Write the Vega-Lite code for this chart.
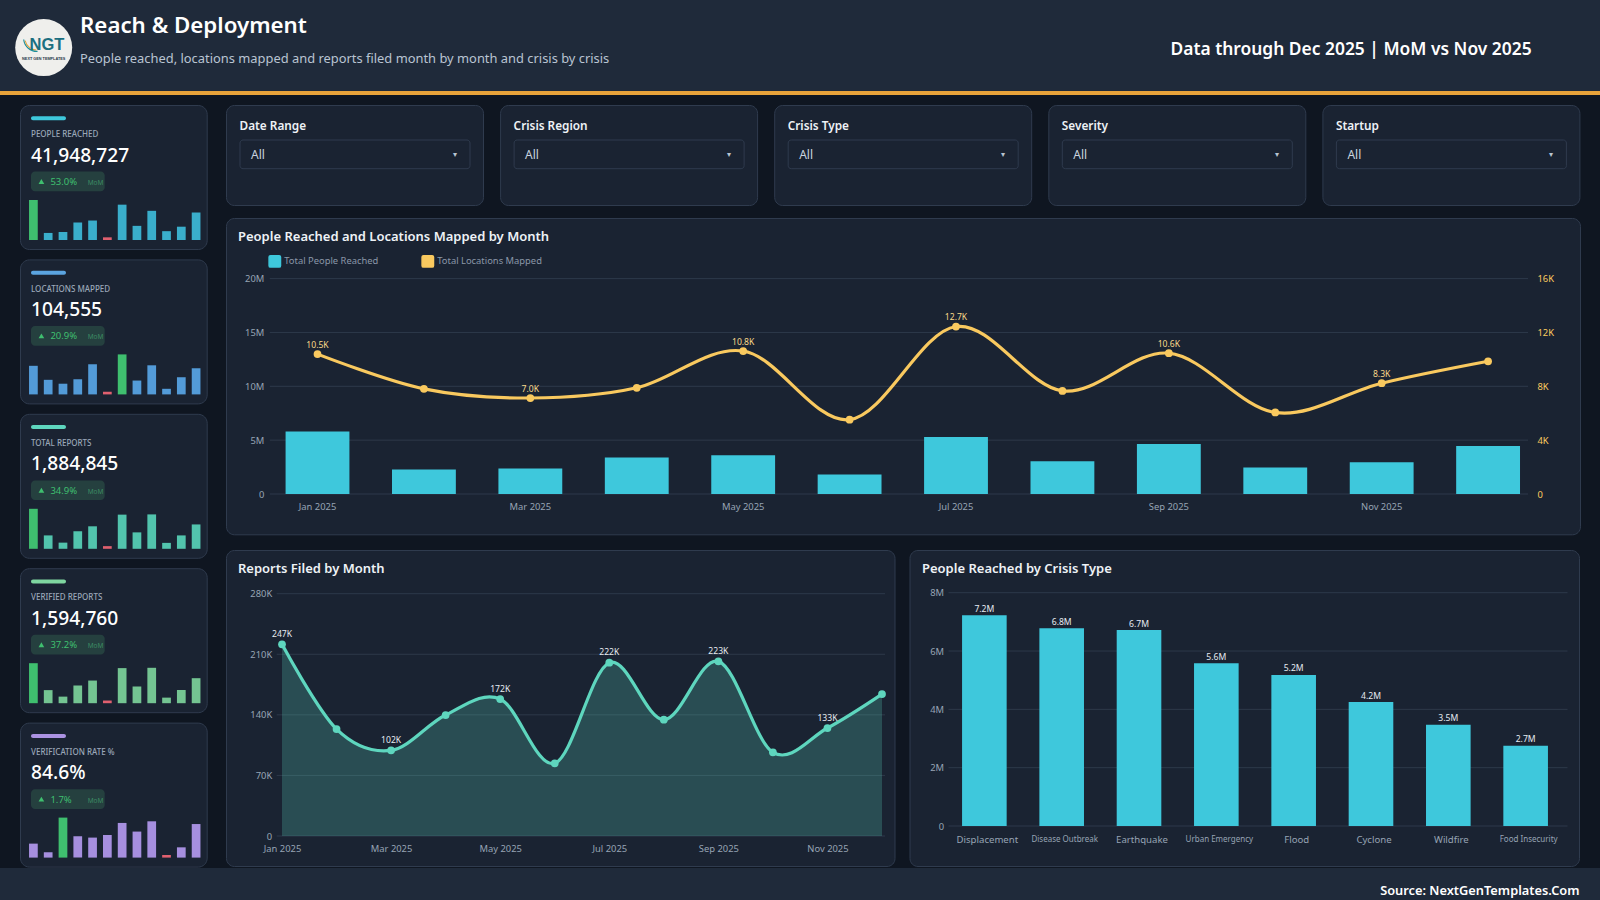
{
"$schema":"https://vega.github.io/schema/vega-lite/v6.json",
"padding":0,
"background":"#0f1621",
"spacing":0,
"config":{"view":{"stroke":null},"font":"Noto Sans","title":{"anchor":"start","frame":"group","font":"Noto Sans","color":"#eef2f6"},"axis":{"labelFont":"Noto Sans","labelColor":"#97a3b4","labelFontSize":9.4,"ticks":false,"domain":false,"grid":false,"title":null},"legend":{"labelFont":"Noto Sans"}},
"datasets":{
"months":[
{"month":"Jan 2025","people":5800000,"locations":10500,"locationsLine":10390,"locLabel":"10.5K","reports":247000,"verified":207400,"rate":83.98,"reportsLine":221500,"repLabel":"247K"},
{"month":"Feb 2025","people":2270000,"locations":7800,"locationsLine":7810,"locLabel":"","reports":133000,"verified":110900,"rate":83.35,"reportsLine":123600,"repLabel":""},
{"month":"Mar 2025","people":2370000,"locations":7050,"locationsLine":7130,"locLabel":"7.0K","reports":102000,"verified":87600,"rate":85.88,"reportsLine":99000,"repLabel":"102K"},
{"month":"Apr 2025","people":3400000,"locations":7900,"locationsLine":7890,"locLabel":"","reports":151000,"verified":127600,"rate":84.52,"reportsLine":139800,"repLabel":""},
{"month":"May 2025","people":3600000,"locations":10800,"locationsLine":10620,"locLabel":"10.8K","reports":172000,"verified":145200,"rate":84.42,"reportsLine":158300,"repLabel":"172K"},
{"month":"Jun 2025","people":1800000,"locations":5500,"locationsLine":5520,"locLabel":"","reports":87000,"verified":73600,"rate":84.61,"reportsLine":84000,"repLabel":""},
{"month":"Jul 2025","people":5300000,"locations":12700,"locationsLine":12440,"locLabel":"12.7K","reports":222000,"verified":189800,"rate":85.49,"reportsLine":200300,"repLabel":"222K"},
{"month":"Aug 2025","people":3030000,"locations":7660,"locationsLine":7660,"locLabel":"","reports":146000,"verified":123900,"rate":84.86,"reportsLine":134400,"repLabel":""},
{"month":"Sep 2025","people":4640000,"locations":10600,"locationsLine":10460,"locLabel":"10.6K","reports":223000,"verified":190900,"rate":85.61,"reportsLine":201800,"repLabel":"223K"},
{"month":"Oct 2025","people":2460000,"locations":6070,"locationsLine":6060,"locLabel":"","reports":101000,"verified":84000,"rate":83.15,"reportsLine":96700,"repLabel":""},
{"month":"Nov 2025","people":2940000,"locations":8300,"locationsLine":8230,"locLabel":"8.3K","reports":133000,"verified":111300,"rate":83.71,"reportsLine":124800,"repLabel":"133K"},
{"month":"Dec 2025","people":4460000,"locations":10030,"locationsLine":9860,"locLabel":"","reports":180000,"verified":153700,"rate":85.41,"reportsLine":164000,"repLabel":""}
],
"crisis":[
{"type":"Displacement","people":7230000,"label":"7.2M"},
{"type":"Disease Outbreak","people":6780000,"label":"6.8M"},
{"type":"Earthquake","people":6720000,"label":"6.7M"},
{"type":"Urban Emergency","people":5580000,"label":"5.6M"},
{"type":"Flood","people":5180000,"label":"5.2M"},
{"type":"Cyclone","people":4250000,"label":"4.2M"},
{"type":"Wildfire","people":3470000,"label":"3.5M"},
{"type":"Food Insecurity","people":2750000,"label":"2.7M"}
]
},
"vconcat":[
{"width":1600,"height":91,"view":{"fill":"#1f2a3a"},
 "title":{"text":"Reach & Deployment","subtitle":"People reached, locations mapped and reports filed month by month and crisis by crisis","fontSize":22.3,"fontWeight":600,"color":"#ffffff","subtitleFont":"Noto Sans","subtitleFontSize":12.9,"subtitleColor":"#b9c4d2","subtitlePadding":16,"dx":80,"offset":-66},
 "data":{"values":[{"logo":"NGT","sub":"NEXT GEN TEMPLATES","period":"Data through Dec 2025 | MoM vs Nov 2025"}]},
 "layer":[
 {"mark":{"type":"point","shape":"circle","filled":true,"size":3250,"color":"#efefec","opacity":1},"encoding":{"x":{"datum":43.7,"scale":{"domain":[0,1600],"nice":false},"axis":null},"y":{"datum":47.6,"scale":{"domain":[0,91],"reverse":true,"nice":false},"axis":null}}},
 {"mark":{"type":"arc","radius":14,"radius2":12.8,"theta":3.1,"theta2":4.6,"color":"#1c8f9c"},"encoding":{"x":{"datum":37},"y":{"datum":38}}},
 {"mark":{"type":"arc","radius":12.6,"radius2":11.6,"theta":3.2,"theta2":4.5,"color":"#e2a23c"},"encoding":{"x":{"datum":37},"y":{"datum":38}}},
 {"mark":{"type":"text","font":"Liberation Sans","fontWeight":"bold","fontSize":16.5,"color":"#1c6f80"},"encoding":{"text":{"field":"logo"},"x":{"datum":47},"y":{"datum":44.5}}},
 {"mark":{"type":"text","font":"Liberation Sans","fontWeight":"bold","fontSize":3.8,"color":"#2a3a4a"},"encoding":{"text":{"field":"sub"},"x":{"datum":43.7},"y":{"datum":58.5}}},
 {"mark":{"type":"text","align":"right","fontSize":17.4,"fontWeight":600,"color":"#ffffff"},"encoding":{"text":{"field":"period"},"x":{"datum":1531.6},"y":{"datum":50}}}
 ]},
{"width":1600,"height":4,"view":{"fill":"#e8a33a"},"data":{"values":[]},"mark":"rect"},
{"width":1,"height":9,"data":{"values":[]},"mark":"rect"},
{"spacing":0,"hconcat":[
 {"width":19,"height":1,"data":{"values":[]},"mark":"rect"},
 {"spacing":8.4,"vconcat":[
  {"width":186.7,"height":144,"view":{"fill":"#1a2332","stroke":"#2f3b4e","cornerRadius":9},
   "title":{"text":"PEOPLE REACHED","subtitle":"41,948,727","dx":11,"offset":-60.8,"fontSize":8,"fontWeight":500,"color":"#9aa7b8","subtitleFont":"Noto Sans","subtitleFontSize":19.2,"subtitleFontWeight":500,"subtitleColor":"#ffffff","subtitlePadding":7.5},
   "resolve":{"scale":{"x":"independent","y":"independent"}},
   "layer":[
   {"data":{"values":[{"delta":"53.0%","mom":"MoM"}]},"layer":[
    {"mark":{"type":"rect","color":"#3ec8dc","cornerRadius":2},"encoding":{"x":{"datum":11,"scale":{"domain":[0,186.7],"nice":false,"zero":false},"axis":null},"x2":{"datum":46},"y":{"datum":11.3,"scale":{"domain":[0,144],"reverse":true,"nice":false},"axis":null},"y2":{"datum":15.3}}},
    {"mark":{"type":"rect","color":"#25403f","cornerRadius":4},"encoding":{"x":{"datum":11},"x2":{"datum":84.7},"y":{"datum":66.6},"y2":{"datum":86.3}}},
    {"mark":{"type":"point","shape":"triangle-up","filled":true,"size":32,"color":"#3fbf6f","opacity":1},"encoding":{"x":{"datum":21.4},"y":{"datum":76.5}}},
    {"mark":{"type":"text","align":"left","fontSize":9.5,"color":"#3fbf6f"},"encoding":{"text":{"field":"delta"},"x":{"datum":30.4},"y":{"datum":77}}},
    {"mark":{"type":"text","align":"left","fontSize":6.5,"color":"#3c8a63"},"encoding":{"text":{"field":"mom"},"x":{"datum":67.7},"y":{"datum":78}}}
   ]},
   {"data":{"name":"months"},"mark":{"type":"bar"},"encoding":{
    "x":{"field":"month","type":"nominal","sort":null,"scale":{"type":"band","range":[6,183.5],"paddingInner":0.41,"paddingOuter":0.205},"axis":null},
    "y":{"field":"people","type":"quantitative","scale":{"domain":[1514000,5800000],"range":[135,95],"nice":false,"zero":false},"axis":null},"y2":{"datum":1514000},
    "color":{"condition":[{"test":"datum.month==='Jan 2025'","value":"#3fbf6f"},{"test":"datum.month==='Jun 2025'","value":"#e0606f"}],"value":"#3aaecb"}}}
   ]},
  {"width":186.7,"height":144,"view":{"fill":"#1a2332","stroke":"#2f3b4e","cornerRadius":9},
   "title":{"text":"LOCATIONS MAPPED","subtitle":"104,555","dx":11,"offset":-60.8,"fontSize":8,"fontWeight":500,"color":"#9aa7b8","subtitleFont":"Noto Sans","subtitleFontSize":19.2,"subtitleFontWeight":500,"subtitleColor":"#ffffff","subtitlePadding":7.5},
   "resolve":{"scale":{"x":"independent","y":"independent"}},
   "layer":[
   {"data":{"values":[{"delta":"20.9%","mom":"MoM"}]},"layer":[
    {"mark":{"type":"rect","color":"#5ba4e0","cornerRadius":2},"encoding":{"x":{"datum":11,"scale":{"domain":[0,186.7],"nice":false,"zero":false},"axis":null},"x2":{"datum":46},"y":{"datum":11.3,"scale":{"domain":[0,144],"reverse":true,"nice":false},"axis":null},"y2":{"datum":15.3}}},
    {"mark":{"type":"rect","color":"#25403f","cornerRadius":4},"encoding":{"x":{"datum":11},"x2":{"datum":84.7},"y":{"datum":66.6},"y2":{"datum":86.3}}},
    {"mark":{"type":"point","shape":"triangle-up","filled":true,"size":32,"color":"#3fbf6f","opacity":1},"encoding":{"x":{"datum":21.4},"y":{"datum":76.5}}},
    {"mark":{"type":"text","align":"left","fontSize":9.5,"color":"#3fbf6f"},"encoding":{"text":{"field":"delta"},"x":{"datum":30.4},"y":{"datum":77}}},
    {"mark":{"type":"text","align":"left","fontSize":6.5,"color":"#3c8a63"},"encoding":{"text":{"field":"mom"},"x":{"datum":67.7},"y":{"datum":78}}}
   ]},
   {"data":{"name":"months"},"mark":{"type":"bar"},"encoding":{
    "x":{"field":"month","type":"nominal","sort":null,"scale":{"type":"band","range":[6,183.5],"paddingInner":0.41,"paddingOuter":0.205},"axis":null},
    "y":{"field":"locations","type":"quantitative","scale":{"domain":[4990,12700],"range":[135,95],"nice":false,"zero":false},"axis":null},"y2":{"datum":4990},
    "color":{"condition":[{"test":"datum.month==='Jul 2025'","value":"#3fbf6f"},{"test":"datum.month==='Jun 2025'","value":"#e0606f"}],"value":"#539bd8"}}}
   ]},
  {"width":186.7,"height":144,"view":{"fill":"#1a2332","stroke":"#2f3b4e","cornerRadius":9},
   "title":{"text":"TOTAL REPORTS","subtitle":"1,884,845","dx":11,"offset":-60.8,"fontSize":8,"fontWeight":500,"color":"#9aa7b8","subtitleFont":"Noto Sans","subtitleFontSize":19.2,"subtitleFontWeight":500,"subtitleColor":"#ffffff","subtitlePadding":7.5},
   "resolve":{"scale":{"x":"independent","y":"independent"}},
   "layer":[
   {"data":{"values":[{"delta":"34.9%","mom":"MoM"}]},"layer":[
    {"mark":{"type":"rect","color":"#5ed6be","cornerRadius":2},"encoding":{"x":{"datum":11,"scale":{"domain":[0,186.7],"nice":false,"zero":false},"axis":null},"x2":{"datum":46},"y":{"datum":11.3,"scale":{"domain":[0,144],"reverse":true,"nice":false},"axis":null},"y2":{"datum":15.3}}},
    {"mark":{"type":"rect","color":"#25403f","cornerRadius":4},"encoding":{"x":{"datum":11},"x2":{"datum":84.7},"y":{"datum":66.6},"y2":{"datum":86.3}}},
    {"mark":{"type":"point","shape":"triangle-up","filled":true,"size":32,"color":"#3fbf6f","opacity":1},"encoding":{"x":{"datum":21.4},"y":{"datum":76.5}}},
    {"mark":{"type":"text","align":"left","fontSize":9.5,"color":"#3fbf6f"},"encoding":{"text":{"field":"delta"},"x":{"datum":30.4},"y":{"datum":77}}},
    {"mark":{"type":"text","align":"left","fontSize":6.5,"color":"#3c8a63"},"encoding":{"text":{"field":"mom"},"x":{"datum":67.7},"y":{"datum":78}}}
   ]},
   {"data":{"name":"months"},"mark":{"type":"bar"},"encoding":{
    "x":{"field":"month","type":"nominal","sort":null,"scale":{"type":"band","range":[6,183.5],"paddingInner":0.41,"paddingOuter":0.205},"axis":null},
    "y":{"field":"reports","type":"quantitative","scale":{"domain":[75600,247000],"range":[135,95],"nice":false,"zero":false},"axis":null},"y2":{"datum":75600},
    "color":{"condition":[{"test":"datum.month==='Jan 2025'","value":"#3fbf6f"},{"test":"datum.month==='Jun 2025'","value":"#e0606f"}],"value":"#52c4ad"}}}
   ]},
  {"width":186.7,"height":144,"view":{"fill":"#1a2332","stroke":"#2f3b4e","cornerRadius":9},
   "title":{"text":"VERIFIED REPORTS","subtitle":"1,594,760","dx":11,"offset":-60.8,"fontSize":8,"fontWeight":500,"color":"#9aa7b8","subtitleFont":"Noto Sans","subtitleFontSize":19.2,"subtitleFontWeight":500,"subtitleColor":"#ffffff","subtitlePadding":7.5},
   "resolve":{"scale":{"x":"independent","y":"independent"}},
   "layer":[
   {"data":{"values":[{"delta":"37.2%","mom":"MoM"}]},"layer":[
    {"mark":{"type":"rect","color":"#7fd6a0","cornerRadius":2},"encoding":{"x":{"datum":11,"scale":{"domain":[0,186.7],"nice":false,"zero":false},"axis":null},"x2":{"datum":46},"y":{"datum":11.3,"scale":{"domain":[0,144],"reverse":true,"nice":false},"axis":null},"y2":{"datum":15.3}}},
    {"mark":{"type":"rect","color":"#25403f","cornerRadius":4},"encoding":{"x":{"datum":11},"x2":{"datum":84.7},"y":{"datum":66.6},"y2":{"datum":86.3}}},
    {"mark":{"type":"point","shape":"triangle-up","filled":true,"size":32,"color":"#3fbf6f","opacity":1},"encoding":{"x":{"datum":21.4},"y":{"datum":76.5}}},
    {"mark":{"type":"text","align":"left","fontSize":9.5,"color":"#3fbf6f"},"encoding":{"text":{"field":"delta"},"x":{"datum":30.4},"y":{"datum":77}}},
    {"mark":{"type":"text","align":"left","fontSize":6.5,"color":"#3c8a63"},"encoding":{"text":{"field":"mom"},"x":{"datum":67.7},"y":{"datum":78}}}
   ]},
   {"data":{"name":"months"},"mark":{"type":"bar"},"encoding":{
    "x":{"field":"month","type":"nominal","sort":null,"scale":{"type":"band","range":[6,183.5],"paddingInner":0.41,"paddingOuter":0.205},"axis":null},
    "y":{"field":"verified","type":"quantitative","scale":{"domain":[64040,207400],"range":[135,95],"nice":false,"zero":false},"axis":null},"y2":{"datum":64040},
    "color":{"condition":[{"test":"datum.month==='Jan 2025'","value":"#3fbf6f"},{"test":"datum.month==='Jun 2025'","value":"#e0606f"}],"value":"#74c492"}}}
   ]},
  {"width":186.7,"height":144,"view":{"fill":"#1a2332","stroke":"#2f3b4e","cornerRadius":9},
   "title":{"text":"VERIFICATION RATE %","subtitle":"84.6%","dx":11,"offset":-60.8,"fontSize":8,"fontWeight":500,"color":"#9aa7b8","subtitleFont":"Noto Sans","subtitleFontSize":19.2,"subtitleFontWeight":500,"subtitleColor":"#ffffff","subtitlePadding":7.5},
   "resolve":{"scale":{"x":"independent","y":"independent"}},
   "layer":[
   {"data":{"values":[{"delta":"1.7%","mom":"MoM"}]},"layer":[
    {"mark":{"type":"rect","color":"#ab92e2","cornerRadius":2},"encoding":{"x":{"datum":11,"scale":{"domain":[0,186.7],"nice":false,"zero":false},"axis":null},"x2":{"datum":46},"y":{"datum":11.3,"scale":{"domain":[0,144],"reverse":true,"nice":false},"axis":null},"y2":{"datum":15.3}}},
    {"mark":{"type":"rect","color":"#25403f","cornerRadius":4},"encoding":{"x":{"datum":11},"x2":{"datum":84.7},"y":{"datum":66.6},"y2":{"datum":86.3}}},
    {"mark":{"type":"point","shape":"triangle-up","filled":true,"size":32,"color":"#3fbf6f","opacity":1},"encoding":{"x":{"datum":21.4},"y":{"datum":76.5}}},
    {"mark":{"type":"text","align":"left","fontSize":9.5,"color":"#3fbf6f"},"encoding":{"text":{"field":"delta"},"x":{"datum":30.4},"y":{"datum":77}}},
    {"mark":{"type":"text","align":"left","fontSize":6.5,"color":"#3c8a63"},"encoding":{"text":{"field":"mom"},"x":{"datum":67.7},"y":{"datum":78}}}
   ]},
   {"data":{"name":"months"},"mark":{"type":"bar"},"encoding":{
    "x":{"field":"month","type":"nominal","sort":null,"scale":{"type":"band","range":[6,183.5],"paddingInner":0.41,"paddingOuter":0.205},"axis":null},
    "y":{"field":"rate","type":"quantitative","scale":{"domain":[82.96,85.88],"range":[135,95],"nice":false,"zero":false},"axis":null},"y2":{"datum":82.96},
    "color":{"condition":[{"test":"datum.month==='Mar 2025'","value":"#3fbf6f"},{"test":"datum.month==='Oct 2025'","value":"#e0606f"}],"value":"#a68fdf"}}}
   ]}
 ]},
 {"width":16.3,"height":1,"data":{"values":[]},"mark":"rect"},
 {"spacing":0,"vconcat":[
  {"spacing":15.1,"hconcat":[
   {"width":257,"height":100,"view":{"fill":"#1a2332","stroke":"#2f3b4e","cornerRadius":8},"title":{"text":"Date Range","dx":13.5,"offset":-28,"fontSize":11.8,"fontWeight":600},
    "data":{"values":[{"selected":"All","caret":"▾"}]},
    "layer":[
    {"mark":{"type":"rect","fill":"#1a2332","stroke":"#2f3b4e","cornerRadius":3},"encoding":{"x":{"datum":14,"scale":{"domain":[0,257],"nice":false,"zero":false},"axis":null},"x2":{"datum":244},"y":{"datum":35,"scale":{"domain":[0,100],"reverse":true,"nice":false},"axis":null},"y2":{"datum":63.7}}},
    {"mark":{"type":"text","align":"left","fontSize":12,"color":"#c9d3df"},"encoding":{"text":{"field":"selected"},"x":{"datum":25},"y":{"datum":50}}},
    {"mark":{"type":"text","fontSize":8,"color":"#b9c4d2"},"encoding":{"text":{"field":"caret"},"x":{"datum":228.5},"y":{"datum":50}}}
    ]},
   {"width":257,"height":100,"view":{"fill":"#1a2332","stroke":"#2f3b4e","cornerRadius":8},"title":{"text":"Crisis Region","dx":13.5,"offset":-28,"fontSize":11.8,"fontWeight":600},
    "data":{"values":[{"selected":"All","caret":"▾"}]},
    "layer":[
    {"mark":{"type":"rect","fill":"#1a2332","stroke":"#2f3b4e","cornerRadius":3},"encoding":{"x":{"datum":14,"scale":{"domain":[0,257],"nice":false,"zero":false},"axis":null},"x2":{"datum":244},"y":{"datum":35,"scale":{"domain":[0,100],"reverse":true,"nice":false},"axis":null},"y2":{"datum":63.7}}},
    {"mark":{"type":"text","align":"left","fontSize":12,"color":"#c9d3df"},"encoding":{"text":{"field":"selected"},"x":{"datum":25},"y":{"datum":50}}},
    {"mark":{"type":"text","fontSize":8,"color":"#b9c4d2"},"encoding":{"text":{"field":"caret"},"x":{"datum":228.5},"y":{"datum":50}}}
    ]},
   {"width":257,"height":100,"view":{"fill":"#1a2332","stroke":"#2f3b4e","cornerRadius":8},"title":{"text":"Crisis Type","dx":13.5,"offset":-28,"fontSize":11.8,"fontWeight":600},
    "data":{"values":[{"selected":"All","caret":"▾"}]},
    "layer":[
    {"mark":{"type":"rect","fill":"#1a2332","stroke":"#2f3b4e","cornerRadius":3},"encoding":{"x":{"datum":14,"scale":{"domain":[0,257],"nice":false,"zero":false},"axis":null},"x2":{"datum":244},"y":{"datum":35,"scale":{"domain":[0,100],"reverse":true,"nice":false},"axis":null},"y2":{"datum":63.7}}},
    {"mark":{"type":"text","align":"left","fontSize":12,"color":"#c9d3df"},"encoding":{"text":{"field":"selected"},"x":{"datum":25},"y":{"datum":50}}},
    {"mark":{"type":"text","fontSize":8,"color":"#b9c4d2"},"encoding":{"text":{"field":"caret"},"x":{"datum":228.5},"y":{"datum":50}}}
    ]},
   {"width":257,"height":100,"view":{"fill":"#1a2332","stroke":"#2f3b4e","cornerRadius":8},"title":{"text":"Severity","dx":13.5,"offset":-28,"fontSize":11.8,"fontWeight":600},
    "data":{"values":[{"selected":"All","caret":"▾"}]},
    "layer":[
    {"mark":{"type":"rect","fill":"#1a2332","stroke":"#2f3b4e","cornerRadius":3},"encoding":{"x":{"datum":14,"scale":{"domain":[0,257],"nice":false,"zero":false},"axis":null},"x2":{"datum":244},"y":{"datum":35,"scale":{"domain":[0,100],"reverse":true,"nice":false},"axis":null},"y2":{"datum":63.7}}},
    {"mark":{"type":"text","align":"left","fontSize":12,"color":"#c9d3df"},"encoding":{"text":{"field":"selected"},"x":{"datum":25},"y":{"datum":50}}},
    {"mark":{"type":"text","fontSize":8,"color":"#b9c4d2"},"encoding":{"text":{"field":"caret"},"x":{"datum":228.5},"y":{"datum":50}}}
    ]},
   {"width":257,"height":100,"view":{"fill":"#1a2332","stroke":"#2f3b4e","cornerRadius":8},"title":{"text":"Startup","dx":13.5,"offset":-28,"fontSize":11.8,"fontWeight":600},
    "data":{"values":[{"selected":"All","caret":"▾"}]},
    "layer":[
    {"mark":{"type":"rect","fill":"#1a2332","stroke":"#2f3b4e","cornerRadius":3},"encoding":{"x":{"datum":14,"scale":{"domain":[0,257],"nice":false,"zero":false},"axis":null},"x2":{"datum":244},"y":{"datum":35,"scale":{"domain":[0,100],"reverse":true,"nice":false},"axis":null},"y2":{"datum":63.7}}},
    {"mark":{"type":"text","align":"left","fontSize":12,"color":"#c9d3df"},"encoding":{"text":{"field":"selected"},"x":{"datum":25},"y":{"datum":50}}},
    {"mark":{"type":"text","fontSize":8,"color":"#b9c4d2"},"encoding":{"text":{"field":"caret"},"x":{"datum":228.5},"y":{"datum":50}}}
    ]}
  ]},
  {"width":1,"height":10.7,"data":{"values":[]},"mark":"rect"},
  {"width":1354,"height":316.3,"view":{"fill":"#1a2332","stroke":"#2f3b4e","cornerRadius":8},
   "title":{"text":"People Reached and Locations Mapped by Month","dx":12,"offset":-26,"fontSize":13,"fontWeight":600},
   "resolve":{"scale":{"x":"independent","y":"independent"}},
   "data":{"name":"months"},
   "layer":[
   {"data":{"values":[{"tick":0},{"tick":5000000},{"tick":10000000},{"tick":15000000},{"tick":20000000}]},"mark":{"type":"rule","color":"#2d394a","strokeWidth":1},"encoding":{
     "x":{"datum":43.8,"scale":{"domain":[0,1354],"nice":false,"zero":false},"axis":null},"x2":{"datum":1302},
     "y":{"field":"tick","type":"quantitative","scale":{"domain":[0,20000000],"range":[276,60.6],"nice":false},"axis":null}}},
   {"mark":{"type":"bar"},"encoding":{
     "x":{"field":"month","type":"nominal","sort":null,"scale":{"type":"band","range":[38.3,1315.3],"paddingInner":0.4,"paddingOuter":0.2},"axis":{"orient":"bottom","offset":-40.3,"labelAngle":0,"labelPadding":8,"values":["Jan 2025","Mar 2025","May 2025","Jul 2025","Sep 2025","Nov 2025"]}},
     "y":{"field":"people","type":"quantitative","scale":{"domain":[0,20000000],"range":[276,60.6],"nice":false},"axis":{"orient":"left","offset":-43.8,"labelPadding":6,"values":[0,5000000,10000000,15000000,20000000],"labelExpr":"datum.value==0?'0':datum.value/1000000+'M'"}},
     "color":{"datum":"Total People Reached","scale":{"domain":["Total People Reached","Total Locations Mapped"],"range":["#3ec8dc","#f9c95f"]},"legend":{"orient":"none","legendX":268.3,"legendY":254.5,"direction":"horizontal","title":null,"labelColor":"#8a97a8","labelFontSize":9.4,"symbolSize":130,"symbolType":"M-0.75,-1 H0.75 Q1,-1 1,-0.75 V0.75 Q1,1 0.75,1 H-0.75 Q-1,1 -1,0.75 V-0.75 Q-1,-1 -0.75,-1 Z","columnPadding":40,"labelOffset":3,"encode":{"symbols":{"update":{"fill":{"scale":"color","field":"value"},"stroke":{"value":"transparent"}}}}}}}},
   {"encoding":{
     "x":{"field":"month","type":"nominal","sort":null,"scale":{"type":"band","range":[38.3,1315.3],"paddingInner":0.4,"paddingOuter":0.2},"axis":null},
     "y":{"field":"locationsLine","type":"quantitative","scale":{"domain":[0,16000],"range":[276,60.6],"nice":false},"axis":{"orient":"right","offset":-48,"labelPadding":5,"labelColor":"#f9c95f","values":[0,4000,8000,12000,16000],"labelExpr":"datum.value==0?'0':datum.value/1000+'K'"}}},
    "layer":[
     {"mark":{"type":"line","interpolate":"cardinal","strokeWidth":3.2},"encoding":{"color":{"datum":"Total Locations Mapped"}}},
     {"mark":{"type":"point","filled":true,"size":60,"opacity":1,"color":"#f9c95f"}},
     {"mark":{"type":"text","dy":-9.5,"fontSize":8.6,"color":"#f9d98a"},"encoding":{"text":{"field":"locLabel"}}}
    ]}
   ]},
  {"width":1,"height":14,"data":{"values":[]},"mark":"rect"},
  {"spacing":13.5,"hconcat":[
   {"width":668.5,"height":316,"view":{"fill":"#1a2332","stroke":"#2f3b4e","cornerRadius":8},
    "title":{"text":"Reports Filed by Month","dx":12,"offset":-26,"fontSize":13,"fontWeight":600},
    "resolve":{"scale":{"x":"independent"}},
    "data":{"name":"months"},
    "layer":[
    {"data":{"values":[{"tick":0},{"tick":70000},{"tick":140000},{"tick":210000},{"tick":280000}]},"mark":{"type":"rule","color":"#2d394a","strokeWidth":1},"encoding":{
      "x":{"datum":50.7,"scale":{"domain":[0,668.5],"nice":false,"zero":false},"axis":null},"x2":{"datum":659},
      "y":{"field":"tick","type":"quantitative","scale":{"domain":[0,280000],"range":[286,43.7],"nice":false},"axis":{"orient":"left","offset":-50.7,"labelPadding":5,"values":[0,70000,140000,210000,280000],"labelExpr":"datum.value==0?'0':datum.value/1000+'K'"}}}},
    {"encoding":{
      "x":{"field":"month","type":"ordinal","sort":null,"scale":{"type":"point","range":[56,656],"padding":0},"axis":{"orient":"bottom","offset":-30,"labelAngle":0,"labelPadding":8,"values":["Jan 2025","Mar 2025","May 2025","Jul 2025","Sep 2025","Nov 2025"]}},
      "y":{"field":"reportsLine","type":"quantitative"}},
     "layer":[
      {"mark":{"type":"area","interpolate":"cardinal","color":"#5ed6be","opacity":0.24}},
      {"mark":{"type":"line","interpolate":"cardinal","color":"#5ed6be","strokeWidth":3.2}},
      {"mark":{"type":"point","filled":true,"size":60,"opacity":1,"color":"#5ed6be"}},
      {"mark":{"type":"text","dy":-10.5,"fontSize":8.6,"color":"#e6ebf1"},"encoding":{"text":{"field":"repLabel"}}}
     ]}
    ]},
   {"width":669.5,"height":316,"view":{"fill":"#1a2332","stroke":"#2f3b4e","cornerRadius":8},
    "title":{"text":"People Reached by Crisis Type","dx":12.5,"offset":-26,"fontSize":13,"fontWeight":600},
    "resolve":{"scale":{"x":"independent"}},
    "layer":[
    {"data":{"values":[{"tick":0},{"tick":2000000},{"tick":4000000},{"tick":6000000},{"tick":8000000}]},"mark":{"type":"rule","color":"#2d394a","strokeWidth":1},"encoding":{
      "x":{"datum":39,"scale":{"domain":[0,669.5],"nice":false,"zero":false},"axis":null},"x2":{"datum":658},
      "y":{"field":"tick","type":"quantitative","scale":{"domain":[0,8000000],"range":[276,42.7],"nice":false},"axis":{"orient":"left","offset":-39,"labelPadding":5,"values":[0,2000000,4000000,6000000,8000000],"labelExpr":"datum.value==0?'0':datum.value/1000000+'M'"}}}},
    {"data":{"name":"crisis"},"encoding":{
      "x":{"field":"type","type":"nominal","sort":null,"scale":{"type":"band","range":[36.2,654.8],"paddingInner":0.423,"paddingOuter":0.2115},"axis":{"orient":"bottom","offset":-40,"labelAngle":0,"labelPadding":13,"labelBaseline":"middle","labelOffset":3,"labelFontSize":{"condition":{"test":"length(datum.label)>12","value":8},"value":9.6}}},
      "y":{"field":"people","type":"quantitative"}},
     "layer":[
      {"mark":{"type":"bar","color":"#3ec8dc"}},
      {"mark":{"type":"text","dy":-6.5,"fontSize":8.6,"color":"#e6ebf1"},"encoding":{"text":{"field":"label"}}}
     ]}
    ]}
  ]}
 ]}
]},
{"width":1600,"height":33,"view":{"fill":"#1f2a3a"},"data":{"values":[{"source":"Source: NextGenTemplates.Com"}]},
 "mark":{"type":"text","align":"right","fontSize":12.8,"fontWeight":600,"color":"#ffffff"},
 "encoding":{"text":{"field":"source"},"x":{"datum":1579.5,"scale":{"domain":[0,1600],"nice":false,"zero":false},"axis":null},"y":{"datum":23,"scale":{"domain":[0,33],"reverse":true,"nice":false},"axis":null}}}
]
}
